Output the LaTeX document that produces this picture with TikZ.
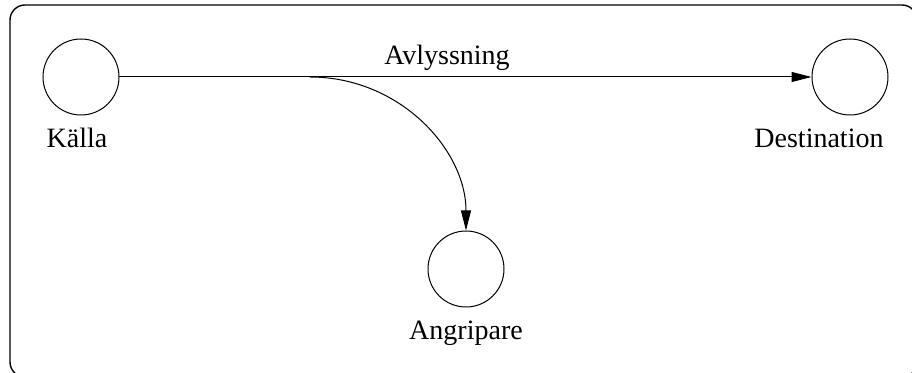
\documentclass[tikz,border=0pt]{standalone}
\usepackage{fontspec}
\setmainfont{Liberation Serif}
\usetikzlibrary{arrows.meta}
\tikzset{
  party/.style={draw,circle,minimum size=38pt,inner sep=0pt},
  namelbl/.style={anchor=base,inner sep=0pt,font=\fontsize{14}{16}\selectfont}
}
\begin{document}
\begin{tikzpicture}[x=0.5pt,y=-0.5pt,line cap=round,>={Triangle[length=10pt,width=5pt]},line width=0.5pt]
	\useasboundingbox (0,0) rectangle (912,373);
	\clip (0,0) rectangle (912,373);
	% ram
	\draw[line width=0.7pt,rounded corners=7.5pt] (10,5) rectangle (917,377);
	% parter
	\node[party] (kalla) at (81,77) {};
	\node[party] (dest) at (850,77) {};
	\node[party] (angr) at (466,269) {};
	\node[namelbl] (kallalbl) at (77,148) {Källa};
	\node[namelbl] (destlbl) at (819,148) {Destination};
	\node[namelbl] (angrlbl) at (466,340) {Angripare};
	\node[namelbl] (avlbl) at (447,65) {Avlyssning};
	% flöden
	\coordinate (split) at (310,77);
	\draw[->] (kalla) -- (dest);
	\draw[->] (split) .. controls (400,77) and (466,150) .. (angr.north);
\end{tikzpicture}
\end{document}
